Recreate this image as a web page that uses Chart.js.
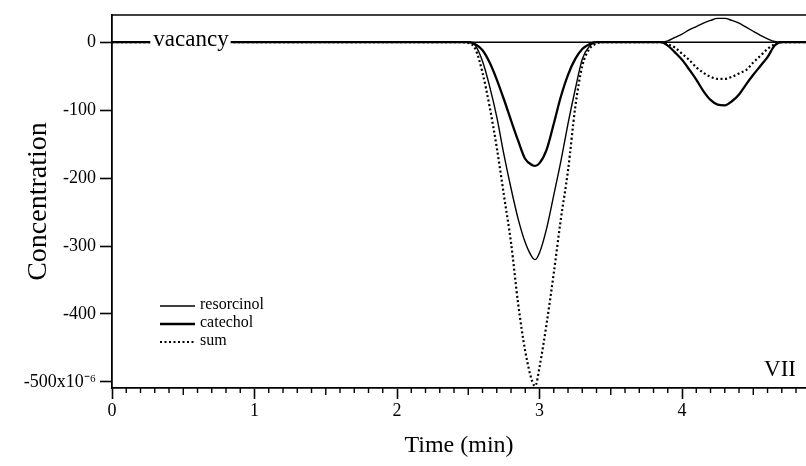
<!DOCTYPE html>
<html>
<head>
<meta charset="utf-8">
<script src="https://cdn.jsdelivr.net/npm/chart.js@4/dist/chart.umd.min.js"></script>
<style>
  html, body { margin: 0; padding: 0; background: #fff; }
  #wrap { width: 806px; height: 466px; }
</style>
</head>
<body>
<div id="wrap"><canvas id="chart" width="806" height="466"></canvas></div>
<script>
// time (min) sample points
const times = [0, 2.45, 2.50, 2.55, 2.60, 2.65, 2.70, 2.75, 2.80, 2.85, 2.90, 2.95, 2.97,
  3.00, 3.05, 3.10, 3.15, 3.20, 3.25, 3.30, 3.35, 3.40, 3.45,
  3.80, 3.85, 3.90, 3.95, 4.00, 4.05, 4.10, 4.15, 4.20, 4.25, 4.30, 4.35, 4.40, 4.45,
  4.50, 4.55, 4.60, 4.65, 4.70, 4.87];

// concentration (x10^-6)
const resorcinol = [0, 0, 0, -5, -28, -65, -110, -165, -215, -260, -295, -317, -320,
  -310, -274, -225, -175, -120, -70, -25, -6, 0, 0,
  0, 0, 2, 7, 12, 18, 23, 28, 32, 35, 35, 32, 28, 22,
  16, 10, 5, 1, 0, 0];

const catechol = [0, 0, 0, -3, -12, -30, -55, -84, -115, -145, -172, -181, -182,
  -178, -158, -120, -80, -48, -25, -10, -3, 0, 0,
  0, 0, -5, -15, -26, -40, -55, -72, -85, -92, -93, -87, -77, -62,
  -48, -35, -22, -5, 0, 0];

const sum = [0, 0, -1, -10, -45, -95, -155, -225, -295, -385, -455, -500, -506,
  -478, -414, -340, -260, -189, -97, -35, -10, -2, 0,
  0, 0, -3, -8, -17, -26, -37, -45, -51, -54, -54, -51, -46, -41,
  -30, -20, -10, -3, 0, 0];

const vacancyTimes = [0, 4.87];
const vacancy = [0, 0];

const yTicks = [0, -100, -200, -300, -400, -500];
const xTicks = [0, 1, 2, 3, 4];

const serif = '"Liberation Serif", "Times New Roman", serif';
const pts = (xs, ys) => xs.map((x, i) => ({ x: x, y: ys[i] }));

// minor ticks, top frame line, "vacancy" and "VII" labels, legend
const decor = {
  id: 'decor',
  afterDraw(chart) {
    const ctx = chart.ctx, a = chart.chartArea;
    const xs = chart.scales.x, ys = chart.scales.y;
    ctx.save();
    ctx.strokeStyle = '#000';
    // top frame
    ctx.lineWidth = 1.6;
    ctx.beginPath(); ctx.moveTo(a.left, a.top); ctx.lineTo(a.right, a.top); ctx.stroke();
    // minor x ticks every 0.1 min
    ctx.lineWidth = 1.4;
    for (let i = 1; i < 49; i++) {
      if (i % 10 === 0) continue;
      const px = xs.getPixelForValue(i / 10);
      const len = i % 5 === 0 ? 7 : 5;
      ctx.beginPath(); ctx.moveTo(px, a.bottom); ctx.lineTo(px, a.bottom + len); ctx.stroke();
    }
    // vacancy label on the zero line
    ctx.font = '23px ' + serif;
    ctx.textBaseline = 'middle';
    ctx.textAlign = 'left';
    const vx = xs.getPixelForValue(0.29), vy = ys.getPixelForValue(0);
    const vw = ctx.measureText('vacancy').width;
    ctx.fillStyle = '#fff';
    ctx.fillRect(vx - 3, vy - 6, vw + 5, 12);
    ctx.fillStyle = '#000';
    ctx.fillText('vacancy', vx, vy - 2);
    // panel label
    ctx.font = '23px ' + serif;
    ctx.textAlign = 'right';
    ctx.fillText('VII', a.right - 10, a.bottom - 18);
    // legend
    const items = [
      { label: 'resorcinol', w: 1.3, dash: [] },
      { label: 'catechol', w: 2.4, dash: [] },
      { label: 'sum', w: 2, dash: [2, 2.5] }
    ];
    ctx.font = '16px ' + serif;
    ctx.textAlign = 'left';
    items.forEach((it, i) => {
      const y = 306 + i * 18;
      ctx.lineWidth = it.w;
      ctx.setLineDash(it.dash);
      ctx.beginPath(); ctx.moveTo(160, y); ctx.lineTo(195, y); ctx.stroke();
      ctx.setLineDash([]);
      ctx.fillText(it.label, 200, y - 1);
    });
    ctx.restore();
  }
};

new Chart(document.getElementById('chart'), {
  type: 'line',
  data: {
    datasets: [
      { label: 'vacancy', data: pts(vacancyTimes, vacancy), borderColor: '#000', borderWidth: 1.5 },
      { label: 'resorcinol', data: pts(times, resorcinol), borderColor: '#000', borderWidth: 1.4, cubicInterpolationMode: 'monotone' },
      { label: 'catechol', data: pts(times, catechol), borderColor: '#000', borderWidth: 2.3, cubicInterpolationMode: 'monotone' },
      { label: 'sum', data: pts(times, sum), borderColor: '#000', borderWidth: 2.2, borderDash: [2, 2.5], cubicInterpolationMode: 'monotone' }
    ]
  },
  options: {
    responsive: false,
    animation: false,
    events: [],
    elements: { point: { radius: 0 } },
    layout: { padding: { top: 15, right: 0, left: 0, bottom: 0 } },
    plugins: { legend: { display: false }, tooltip: { enabled: false } },
    scales: {
      x: {
        type: 'linear', min: 0, max: 4.87,
        afterFit: s => { s.height = 78; },
        afterBuildTicks: s => { s.ticks = xTicks.map(v => ({ value: v })); },
        border: { display: true, color: '#000', width: 1.8 },
        grid: { drawOnChartArea: false, drawTicks: true, tickLength: 11, color: '#000', tickWidth: 1.6 },
        ticks: { color: '#000', font: { family: serif, size: 18 }, padding: 1, maxRotation: 0,
          callback: v => String(v) },
        title: { display: true, text: 'Time (min)', color: '#000', font: { family: serif, size: 24 }, padding: { top: 8, bottom: 6 } }
      },
      y: {
        type: 'linear', min: -509, max: 40,
        afterFit: s => { s.width = 112; },
        afterBuildTicks: s => { s.ticks = yTicks.map(v => ({ value: v })); },
        border: { display: true, color: '#000', width: 1.8 },
        grid: { drawOnChartArea: false, drawTicks: true, tickLength: 12, color: '#000', tickWidth: 1.6 },
        ticks: { color: '#000', font: { family: serif, size: 18 }, padding: 4,
          callback: v => v === -500 ? '-500x10\u207B\u2076' : String(v) },
        title: { display: true, text: 'Concentration', color: '#000', font: { family: serif, size: 28 }, padding: { top: 22, bottom: 0 } }
      }
    }
  },
  plugins: [decor]
});
</script>
</body>
</html>
